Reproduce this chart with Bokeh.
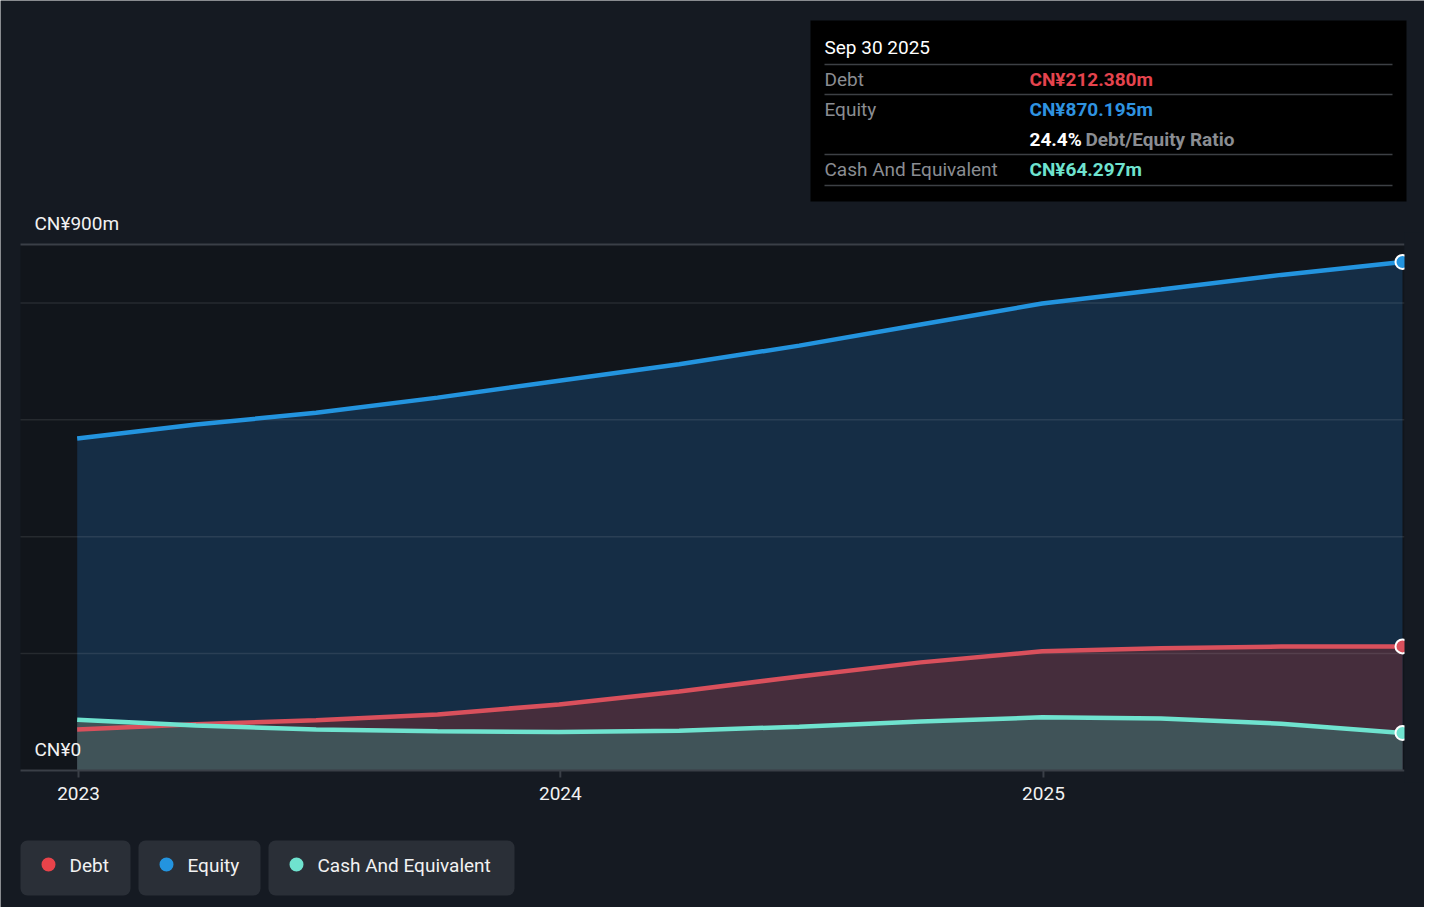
import datetime as dt
from bokeh.plotting import figure
from bokeh.models import Range1d, Label, BoxAnnotation, ColumnDataSource
from bokeh.embed import file_html
from bokeh.resources import INLINE
from bokeh.core.properties import value

# ---------------- data ----------------
dates = ["2022-12-31", "2023-03-31", "2023-06-30", "2023-09-30", "2023-12-31",
         "2024-03-31", "2024-06-30", "2024-09-30", "2024-12-31", "2025-03-31",
         "2025-06-30", "2025-09-30"]
debt = [70, 79, 86, 96, 113, 135, 161, 185, 204, 209, 212, 212.38]
equity = [568, 592, 612, 638, 667, 695, 727, 763, 799, 823, 848, 870.195]
cash = [87, 77, 70, 67, 66, 68, 75, 84, 91, 89, 80, 64.297]
year_ticks = ["2023-01-01", "2024-01-01", "2025-01-01"]
year_labels = ["2023", "2024", "2025"]
y_grid_ticks = [200, 400, 600, 800]
y_top = 900
y_labels = ["CN¥900m", "CN¥0"]
series_names = ["Debt", "Equity", "Cash And Equivalent"]
tooltip_date = "Sep 30 2025"
tooltip_values = ["CN¥212.380m", "CN¥870.195m", "CN¥64.297m"]
ratio_text = "24.4%"
ratio_label = "Debt/Equity Ratio"

# ---------------- styling ----------------
FONT = "Roboto"
BG = "#151a22"
FRAME_BG = "#11151b"
C_DEBT = "#d9505c"
C_EQ = "#2394df"
C_CASH = "#6fe3cf"
F_DEBT = "#452d3c"
F_EQ = "#152d45"
F_CASH = "#405358"

def to_dt(s):
    return dt.datetime.strptime(s, "%Y-%m-%d")

EPOCH = dt.datetime(1970, 1, 1)
def ms(d):
    return (d - EPOCH).total_seconds() * 1000.0

x_dates = [to_dt(s) for s in dates]
tick_dates = [to_dt(s) for s in year_ticks]

# geometry (page pixels); figure occupies page 8..1432 x 8..915
W, H = 1424, 907
PL, PT = 8, 8
FL, FR, FT, FB = 28, 1412, 252, 778  # plot area edges on the page
px_per_day = (1410 - 86) / 1003.0
x0_ms = ms(to_dt("2023-01-01"))

def px_x(px):
    return x0_ms + (px - 86) / px_per_day * 86400000.0

def px_y(py):
    return (FB - py) * y_top / (FB - FT)

p = figure(width=W, height=H, x_axis_type="datetime",
           x_axis_location=None, y_axis_location=None,
           x_range=Range1d(px_x(PL), px_x(PL + W)),
           y_range=Range1d(px_y(PT + H), px_y(PT)),
           output_backend="svg", toolbar_location=None,
           min_border=0, min_border_left=0, min_border_right=0,
           min_border_top=0, min_border_bottom=0)
p.background_fill_color = BG
p.border_fill_color = BG
p.outline_line_color = None
p.grid.visible = False

# darker plot area
p.add_layout(BoxAnnotation(left=px_x(FL), right=px_x(FR), bottom=0, top=y_top,
                           fill_color=FRAME_BG, fill_alpha=1, line_color=None,
                           level="underlay"))

src = ColumnDataSource(dict(x=x_dates, debt=debt, equity=equity, cash=cash))
p.varea(x="x", y1=0, y2="equity", source=src, fill_color=F_EQ, fill_alpha=1)
p.varea(x="x", y1=0, y2="debt", source=src, fill_color=F_DEBT, fill_alpha=1)
p.varea(x="x", y1=0, y2="cash", source=src, fill_color=F_CASH, fill_alpha=1)

# horizontal grid lines
p.segment(x0=[px_x(FL)] * len(y_grid_ticks), x1=[px_x(FR)] * len(y_grid_ticks),
          y0=y_grid_ticks, y1=y_grid_ticks, line_color="#ffffff",
          line_alpha=0.09, line_width=1.5)
p.segment(x0=[px_x(FL)], x1=[px_x(FR)], y0=[y_top], y1=[y_top],
          line_color="#3a3f47", line_width=2)

p.line(x="x", y="equity", source=src, line_color=C_EQ, line_width=4.5)
p.line(x="x", y="debt", source=src, line_color=C_DEBT, line_width=4.5)
p.line(x="x", y="cash", source=src, line_color=C_CASH, line_width=4.5)

end_src = ColumnDataSource(dict(x=[x_dates[-1]] * 3,
                                y=[equity[-1], debt[-1], cash[-1]],
                                c=[C_EQ, C_DEBT, C_CASH]))
p.scatter(x="x", y="y", source=end_src, size=14, fill_color="c",
          line_color="white", line_width=2)

# clip the end markers at the plot edge like the reference
p.add_layout(BoxAnnotation(left=px_x(FR), right=px_x(PL + W), bottom=px_y(790),
                           top=px_y(240), fill_color=BG, fill_alpha=1,
                           line_color=None, level="overlay"))

# x axis: line, ticks and labels drawn through the data scales
p.segment(x0=[px_x(FL)], x1=[px_x(FR)], y0=[0], y1=[0],
          line_color="#3a3f47", line_width=2)
p.segment(x0=tick_dates, x1=tick_dates, y0=[0] * 3, y1=[px_y(785)] * 3,
          line_color="#3a3f47", line_width=2)
p.text(x=tick_dates, y=[px_y(801)] * 3, text=year_labels,
       text_color="#f2f2f2", text_font=value(FONT), text_font_size="19px",
       text_align="center", text_baseline="middle")

def label(px, py, text, color="#f2f2f2", size="19px", style="normal", align="left"):
    p.add_layout(Label(x=px_x(px), y=px_y(py), text=text, text_color=color,
                       text_font=FONT, text_font_size=size, text_font_style=style,
                       text_align=align, text_baseline="middle", level="overlay"))

def box(l, r, t, b, color, radius=0):
    p.add_layout(BoxAnnotation(left=px_x(l), right=px_x(r), top=px_y(t),
                               bottom=px_y(b), fill_color=color, fill_alpha=1,
                               line_color=None, border_radius=radius,
                               level="overlay"))

# y labels
label(42, 231, y_labels[0])
label(42, 757, y_labels[1])

# tooltip
box(818, 1414, 28, 209, "#000000")
for yy in [72, 102, 162, 193]:
    box(832, 1400, yy - 0.8, yy + 0.8, "#3d4045")
label(832, 55, tooltip_date, color="#ffffff")
label(832, 87, series_names[0], color="#8a8d92")
label(1037, 87, tooltip_values[0], color="#e5444e", style="bold")
label(832, 117, series_names[1], color="#8a8d92")
label(1037, 117, tooltip_values[1], color="#2f93e0", style="bold")
label(1037, 147, ratio_text, color="#ffffff", style="bold")
label(1093, 147, ratio_label, color="#8a8d92", style="bold")
label(832, 177, series_names[2], color="#8a8d92")
label(1037, 177, tooltip_values[2], color="#6fe3cf", style="bold")

# legend
legend_boxes = [(28, 138), (146, 268), (276, 522)]
legend_colors = ["#e8434a", "#2394df", "#6fe3cf"]
for (l, r), name, col in zip(legend_boxes, series_names, legend_colors):
    box(l, r, 848, 903, "#2a2f37", radius=7)
    box(l + 21, l + 35, 865, 879, col, radius=7)
    label(l + 49, 873, name, color="#f2f2f2")

open("out.html", "w").write(file_html(p, INLINE))
